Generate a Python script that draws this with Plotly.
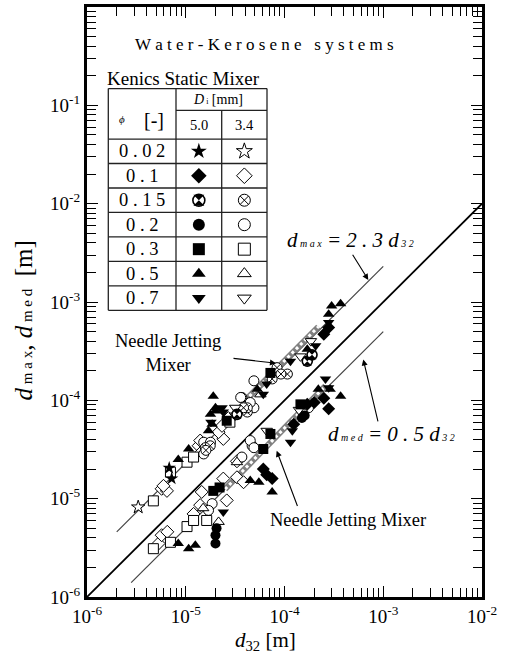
import plotly.graph_objects as go

FONT = "Liberation Serif"

# ---- Kenics static mixer data: d32 [m] vs. d_max / d_med [m] ----
# Di = 5.0 mm (filled symbols)
star_f_d32 = [6.8e-6, 7.2e-6]
star_f_d = [2.05e-5, 1.6e-5]
diamond_f_d32 = [6.1e-5, 7.5e-5, 6.6e-5, 2.5e-4, 2.8e-4, 1.7e-4, 1.24e-4, 2.0e-4, 2.8e-4, 2.5e-4]
diamond_f_d = [2.0e-5, 1.6e-5, 1.75e-5, 1.05e-4, 8.2e-5, 9.1e-5, 5.7e-5, 9.5e-5, 5.5e-4, 4.7e-4]
cx_f_d32 = [1.7e-4, 1.9e-4, 3.3e-5]
cx_f_d = [2.5e-4, 2.9e-4, 7.2e-5]
circle_f_d32 = [2.0e-5, 2.0e-5, 1.6e-4, 1.5e-4, 2.05e-5]
circle_f_d = [4.25e-6, 3.5e-6, 7.0e-5, 6.6e-5, 5.0e-6]
square_f_d32 = [2.6e-5, 7.2e-5, 7.2e-5, 6.1e-5, 1.45e-4, 1.9e-5, 2.2e-5]
square_f_d = [6.2e-5, 1.9e-4, 4.55e-5, 3.2e-5, 9.1e-5, 1.2e-5, 1.3e-5]
tri_up_f_d32 = [8.4e-6, 1.07e-5, 1.7e-5, 1.85e-5, 1.78e-5, 2.0e-5, 1.9e-5, 2.0e-5, 5.3e-5,
                1.7e-4, 2.8e-4, 3.0e-4, 3.7e-4,
                8.4e-6, 1.07e-5, 1.25e-5, 4.5e-5, 5.5e-5, 7.5e-5, 3.7e-4, 2.2e-4, 2.9e-4]
tri_up_f_d = [2.5e-5, 3.2e-5, 4.9e-5, 5.7e-5, 7.2e-5, 8.4e-5, 1.1e-4, 7.8e-5, 1.3e-4,
              3.3e-4, 7.5e-4, 9.1e-4, 9.6e-4,
              3.5e-6, 3.1e-6, 3.35e-6, 1.53e-5, 1.47e-5, 1.17e-5, 1.1e-4, 1.3e-4, 1.3e-4]
tri_dn_f_d32 = [2.4e-5, 2.33e-5, 6.6e-5, 6.1e-5, 1.15e-4, 2.07e-4, 2.8e-4, 1.8e-5,
                2.4e-5, 1.15e-4, 1.2e-4, 2.6e-4, 2.8e-4]
tri_dn_f_d = [7.6e-5, 8.4e-5, 1.47e-4, 1.15e-4, 2.5e-4, 3.6e-4, 6.2e-4, 6.0e-5,
              7.3e-6, 3.75e-5, 4.9e-5, 1.65e-4, 1.34e-4]

# Di = 3.4 mm (open symbols)
star_o_d32 = [3.3e-6]
star_o_d = [8.2e-6]
diamond_o_d32 = [5.7e-6, 6.45e-6, 5.95e-6, 1.35e-5, 1.4e-5, 2.4e-5, 2.15e-5, 2.33e-5, 2.7e-5, 1.45e-5,
                 5.3e-6, 5.7e-6, 6.5e-6, 1.4e-5, 1.45e-5, 2.6e-5, 2.4e-5, 3.3e-5, 3.85e-5, 3.3e-5, 1.2e-5]
diamond_o_d = [1.26e-5, 1.2e-5, 1.35e-5, 3.45e-5, 3.9e-5, 4.05e-5, 4.75e-5, 5.5e-5, 6.6e-5, 3.0e-5,
               3.5e-6, 4.25e-6, 4.6e-6, 8.6e-6, 1.17e-5, 9.6e-6, 1.6e-5, 1.65e-5, 1.47e-5, 2.4e-5, 7.0e-6]
cx_o_d32 = [1.58e-5, 1.77e-5, 1.6e-5, 4.2e-5, 4.2e-5, 3.85e-5, 8.4e-5, 1.07e-4, 7.5e-5, 9.2e-5]
cx_o_d = [3.3e-5, 3.45e-5, 3.1e-5, 7.6e-5, 8.4e-5, 8.4e-5, 2.15e-4, 1.85e-4, 1.65e-4, 1.85e-4]
circle_o_d32 = [1.52e-5, 1.78e-5, 1.52e-5, 3.7e-5, 4.9e-5, 4.9e-5, 3.6e-5, 4.5e-5,
                1.85e-5, 1.7e-5, 3.7e-5, 4.7e-5, 4.5e-5, 4.9e-5, 1.75e-4, 1.55e-4]
circle_o_d = [3.75e-5, 3.75e-5, 2.85e-5, 1.07e-4, 1.58e-4, 8.4e-5, 1.07e-4, 9.5e-5,
              8.9e-6, 7.6e-6, 2.65e-5, 3.45e-5, 3.9e-5, 3.3e-5, 8.4e-5, 7.3e-5]
square_o_d32 = [4.7e-6, 7.0e-6, 1.03e-5, 1.2e-5, 2.8e-5,
                4.7e-6, 7.0e-6, 1.03e-5, 1.2e-5, 1.63e-5]
square_o_d = [9.5e-6, 1.86e-5, 2.35e-5, 2.65e-5, 6.0e-5,
              3.1e-6, 3.6e-6, 5.2e-6, 6.0e-6, 6.0e-6]
tri_up_o_d32 = [5.7e-5, 2.15e-5, 3.3e-5, 1.5e-5]
tri_up_o_d = [1.15e-4, 5.8e-6, 2.35e-5, 8.0e-6]
tri_dn_o_d32 = [3.17e-5, 3.17e-5, 1.85e-4, 1.45e-4, 6.6e-5, 1.4e-4]
tri_dn_o_d = [8.4e-5, 7.0e-5, 4.0e-4, 2.8e-4, 4.9e-5, 8.0e-5]

# ---- correlation lines ----
dmax_coef = 2.3
dmax_range = [2.0e-6, 1.0e-3]
dmed_coef = 0.5
dmed_range = [2.8e-6, 1.0e-3]
unity_range = [1.0e-6, 1.0e-2]

# ---- needle jetting mixer bands ----
nj_upper_d32 = [4.0e-5, 2.2e-4]
nj_upper_d = [1.0e-4, 5.6e-4]
nj_lower_d32 = [2.5e-5, 2.6e-4]
nj_lower_d = [1.25e-5, 1.4e-4]

# ---- legend table ----
phi_labels = ["0.02", "0.1", "0.15", "0.2", "0.3", "0.5", "0.7"]
di_labels = ["5.0", "3.4"]
table_symbols = [("star", "star"), ("diamond", "diamond"), ("cxf", "circle-x"),
                 ("circle", "circle"), ("square", "square"),
                 ("triangle-up", "triangle-up"), ("triangle-down", "triangle-down")]

x_ticks = [1e-6, 1e-5, 1e-4, 1e-3, 1e-2]
x_ticktext = ["10<sup>-6</sup>", "10<sup>-5</sup>", "10<sup>-4</sup>", "10<sup>-3</sup>", "10<sup>-2</sup>"]
y_ticks = [1e-6, 1e-5, 1e-4, 1e-3, 1e-2, 1e-1]
y_ticktext = ["10<sup>-6</sup>", "10<sup>-5</sup>", "10<sup>-4</sup>", "10<sup>-3</sup>", "10<sup>-2</sup>", "10<sup>-1</sup>"]

fig = go.Figure()

MS = 10


def add_points(x, y, symbol, filled, xa="x", ya="y", size=MS):
    fig.add_trace(go.Scatter(
        x=x, y=y, mode="markers", xaxis=xa, yaxis=ya,
        marker=dict(symbol=symbol, size=size,
                    color="black" if filled else "white",
                    line=dict(color="black", width=0 if filled else 1)),
        showlegend=False, hoverinfo="skip"))


def add_cxf(x, y, xa="x", ya="y", size=MS):
    # circle with black upper/lower wedges
    fig.add_trace(go.Scatter(
        x=x, y=y, mode="markers", xaxis=xa, yaxis=ya,
        marker=dict(symbol="circle", size=size, color="white", line=dict(color="black", width=1.6)),
        showlegend=False, hoverinfo="skip"))
    fig.add_trace(go.Scatter(
        x=x, y=y, mode="markers", xaxis=xa, yaxis=ya,
        marker=dict(symbol="hourglass", size=size - 1, color="black", line=dict(width=0)),
        showlegend=False, hoverinfo="skip"))


# reference lines
fig.add_trace(go.Scatter(x=unity_range, y=unity_range, mode="lines",
                         line=dict(color="black", width=1.8), showlegend=False, hoverinfo="skip"))
fig.add_trace(go.Scatter(x=dmax_range, y=[dmax_coef * v for v in dmax_range], mode="lines",
                         line=dict(color="#444", width=1.2), showlegend=False, hoverinfo="skip"))
fig.add_trace(go.Scatter(x=dmed_range, y=[dmed_coef * v for v in dmed_range], mode="lines",
                         line=dict(color="#444", width=1.2), showlegend=False, hoverinfo="skip"))

# needle jetting mixer bands (gray hatched strips)
for bx, by in [(nj_upper_d32, nj_upper_d), (nj_lower_d32, nj_lower_d)]:
    fig.add_trace(go.Scatter(x=bx, y=by, mode="lines", line=dict(color="#808080", width=6),
                             showlegend=False, hoverinfo="skip"))
    fig.add_trace(go.Scatter(x=bx, y=by, mode="lines", line=dict(color="white", width=3, dash="dot"),
                             showlegend=False, hoverinfo="skip"))

# data points
add_points(star_o_d32, star_o_d, "star", False)
add_points(diamond_o_d32, diamond_o_d, "diamond", False)
add_points(circle_o_d32, circle_o_d, "circle", False)
add_points(cx_o_d32, cx_o_d, "circle-x", False)
add_points(square_o_d32, square_o_d, "square", False)
add_points(tri_up_o_d32, tri_up_o_d, "triangle-up", False)
add_points(tri_dn_o_d32, tri_dn_o_d, "triangle-down", False)
add_points(star_f_d32, star_f_d, "star", True)
add_points(diamond_f_d32, diamond_f_d, "diamond", True)
add_cxf(cx_f_d32, cx_f_d)
add_points(circle_f_d32, circle_f_d, "circle", True)
add_points(square_f_d32, square_f_d, "square", True)
add_points(tri_up_f_d32, tri_up_f_d, "triangle-up", True)
add_points(tri_dn_f_d32, tri_dn_f_d, "triangle-down", True)

# ---- legend table geometry (fractions of the plot area) ----
L, W = 87, 395
T, H = 4, 593


def px(xp):
    return (xp - L) / W


def py(yp):
    return (T + H - yp) / H


tab_left, tab_c1, tab_c2, tab_right = 108.3, 176.0, 221.7, 267.0
tab_top, tab_sub, tab_head = 86.0, 108.0, 136.7
row_h = 24.6
tab_bottom = tab_head + row_h * len(phi_labels)

line_style = dict(color="#222", width=1.3)
shapes = []
for yy in [tab_top, tab_head] + [tab_head + row_h * (i + 1) for i in range(len(phi_labels))]:
    shapes.append(dict(type="line", xref="paper", yref="paper", x0=px(tab_left), x1=px(tab_right),
                       y0=py(yy), y1=py(yy), line=line_style))
shapes.append(dict(type="line", xref="paper", yref="paper", x0=px(tab_c1), x1=px(tab_right),
                   y0=py(tab_sub), y1=py(tab_sub), line=line_style))
for xx, y0 in [(tab_left, tab_top), (tab_c1, tab_top), (tab_right, tab_top), (tab_c2, tab_sub)]:
    shapes.append(dict(type="line", xref="paper", yref="paper", x0=px(xx), x1=px(xx),
                       y0=py(y0), y1=py(tab_bottom), line=line_style))

# table symbols on an overlay axis spanning the plot area
col_x = [px((tab_c1 + tab_c2) / 2), px((tab_c2 + tab_right) / 2)]
for i, (sym_f, sym_o) in enumerate(table_symbols):
    yc = py(tab_head + row_h * (i + 0.5))
    if sym_f == "cxf":
        add_cxf([col_x[0]], [yc], "x2", "y2", 12)
    else:
        add_points([col_x[0]], [yc], sym_f, True, "x2", "y2", 12)
    add_points([col_x[1]], [yc], sym_o, False, "x2", "y2", 12)

SP = "\u2005"


def spaced(s):
    return SP.join(list(s))


ann = []


def text(x, y, t, size, xanchor="center", **kw):
    ann.append(dict(xref="paper", yref="paper", x=x, y=y, text=t, showarrow=False,
                    xanchor=xanchor, yanchor="middle",
                    font=dict(family=FONT, size=size, color="black"), **kw))


text(px(264), py(42), (SP * 3).join(spaced(w) for w in "Water-Kerosene systems".split()), 17)
text(px(183), py(76), "Kenics Static Mixer", 19)
text(px(121.5), py(117), "<i>\u03d5</i>", 11)
text(px(154), py(118), "[-]", 20)
text(px(218), py(97), "<i>D</i><span style='font-size:8px'> i</span> [mm]", 14)
for lbl, xc in zip(di_labels, col_x):
    text(xc, py(122.5), lbl, 14.5)
for i, lbl in enumerate(phi_labels):
    text(px((tab_left + tab_c1) / 2), py(tab_head + row_h * (i + 0.5)), spaced(lbl), 18.5)

text(px(168), py(352), "Needle Jetting<br>Mixer", 18.5)
text(px(268), py(520), "Needle Jetting Mixer", 18.5, xanchor="left")
text(px(285), py(238),
     "<i>d<span style='font-size:10px'> " + spaced("max") + "</span>" + SP + "=" + SP + spaced("2.3") + SP
     + "d<span style='font-size:10px'> " + spaced("32") + "</span></i>", 21, xanchor="left")
text(px(326), py(433),
     "<i>d<span style='font-size:10px'> " + spaced("med") + "</span>" + SP + "=" + SP + spaced("0.5") + SP
     + "d<span style='font-size:10px'> " + spaced("32") + "</span></i>", 21, xanchor="left")

# axis titles
text(px(23), py(319),
     "<i>d</i><span style='font-size:15px'>" + SP + spaced("max") + "</span>, <i>d</i>"
     + "<span style='font-size:15px'>" + SP + spaced("med") + "</span>" + SP * 2 + "[m]",
     25, textangle=-90)
text(px(265), py(641), "<i>d</i><sub>32</sub> [m]", 21)

# arrows
for tip, tail in [((368.3, 278.3), (351.7, 251.7)),
                  ((363.3, 358.3), (378.3, 421.7)),
                  ((276.0, 362.0), (232.0, 357.0)),
                  ((276.7, 450.0), (298.0, 506.7))]:
    ann.append(dict(xref="paper", yref="paper", x=px(tip[0]), y=py(tip[1]), text="",
                    showarrow=True, arrowhead=2, arrowsize=1.1, arrowwidth=1.1, arrowcolor="black",
                    ax=tail[0] - tip[0], ay=tail[1] - tip[1], standoff=0))

x_minor = [k * 10 ** e for e in range(-6, -2) for k in range(2, 10)]
y_minor = [k * 10 ** e for e in range(-6, 0) for k in range(2, 10)]

axis_common = dict(type="log", showgrid=False, zeroline=False, showline=True, linewidth=3,
                   linecolor="black", mirror="ticks", ticks="inside", ticklen=11, tickwidth=1.2,
                   tickcolor="black", tickfont=dict(family=FONT, size=19, color="black"))

fig.update_layout(
    width=505, height=658,
    margin=dict(l=L, r=505 - L - W, t=T, b=658 - T - H),
    paper_bgcolor="white", plot_bgcolor="white",
    xaxis=dict(range=[-6, -2], tickmode="array", tickvals=x_ticks, ticktext=x_ticktext,
               minor=dict(tickmode="array", tickvals=x_minor, ticks="inside", ticklen=9,
                          tickwidth=1.1, tickcolor="black", showgrid=False),
               **axis_common),
    yaxis=dict(range=[-6, 0], tickmode="array", tickvals=y_ticks, ticktext=y_ticktext,
               minor=dict(tickmode="array", tickvals=y_minor, ticks="inside", ticklen=9,
                          tickwidth=1.1, tickcolor="black", showgrid=False),
               **axis_common),
    xaxis2=dict(overlaying="x", range=[0, 1], visible=False),
    yaxis2=dict(overlaying="y", range=[0, 1], visible=False),
    shapes=shapes, annotations=ann,
)

fig.write_html("out.html")
